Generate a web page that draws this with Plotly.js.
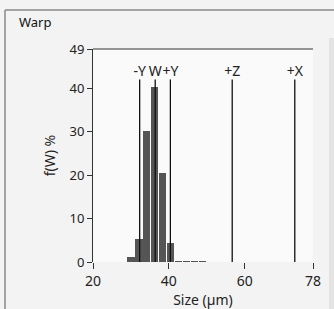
<!DOCTYPE html>
<html>
<head>
<meta charset="utf-8">
<script src="https://cdn.plot.ly/plotly-3.0.1.min.js"></script>
<style>
html,body{margin:0;padding:0;background:#f3f3f3;}
#chart{width:334px;height:309px;}
</style>
</head>
<body>
<div id="chart"></div>
<script>
// Histogram bins (µm) and frequencies (%)
const binCenters = [30.0, 32.1, 34.2, 36.3, 38.4, 40.5, 42.6, 44.7, 46.8, 48.9];
const binValues  = [1.2, 5.3, 30.1, 40.3, 20.4, 4.4, 0.3, 0.3, 0.3, 0.3];
// Marker lines
const markerLabels = ["-Y", "W", "+Y", "+Z", "+X"];
const markerX = [32.3, 36.4, 40.4, 56.7, 73.2];
const markerTop = 42;
// Axis ticks
const xTicks = [20, 40, 60, 78];
const yTicks = [0, 10, 20, 30, 40, 49];

const lx = [], ly = [];
markerX.forEach(x => { lx.push(x, x, null); ly.push(0, markerTop, null); });

const fam = "Noto Sans, Open Sans, sans-serif";
const font = {family: fam, size: 13, color: "#222"};

const traces = [
  {type: "bar", x: binCenters, y: binValues, width: 1.9,
   marker: {color: "#555555", line: {width: 0}}, hoverinfo: "skip"},
  {type: "scatter", mode: "lines", x: lx, y: ly,
   line: {color: "#111", width: 1.3}, hoverinfo: "skip"},
  {type: "scatter", mode: "text", x: markerX, y: markerX.map(() => markerTop),
   text: markerLabels, textposition: "top center",
   textfont: {family: fam, size: 14, color: "#222"}, hoverinfo: "skip", cliponaxis: false}
];

const P = (px) => (px - 93) / 220;
const Q = (py) => (262 - py) / 213;

const layout = {
  width: 334, height: 309,
  margin: {l: 93, r: 21, t: 49, b: 47, pad: 0},
  paper_bgcolor: "#f3f3f3",
  plot_bgcolor: "#fafafa",
  showlegend: false,
  font: font,
  bargap: 0,
  xaxis: {range: [20, 78], tickvals: xTicks, ticktext: xTicks.map(String),
    ticks: "outside", ticklen: 6, tickwidth: 1, tickcolor: "#333",
    showline: false, showgrid: false, zeroline: false,
    tickfont: {family: fam, size: 14, color: "#222"},
    title: {text: "Size (µm)", font: {family: fam, size: 14, color: "#222"}, standoff: 9}},
  yaxis: {range: [0, 49], tickvals: yTicks, ticktext: yTicks.map(String),
    ticks: "outside", ticklen: 5, tickwidth: 1, tickcolor: "#333",
    showline: true, linecolor: "#333", linewidth: 1,
    showgrid: false, zeroline: false,
    tickfont: {family: fam, size: 13, color: "#222"},
    title: {text: "f(W) %", font: {family: fam, size: 14, color: "#222"}, standoff: 10}},
  shapes: [
    {type: "line", xref: "paper", yref: "paper", x0: 0, x1: 1, y0: 1, y1: 1,
     line: {color: "#333", width: 1}},
    // group box border
    {type: "line", xref: "paper", yref: "paper", x0: P(5), x1: P(334), y0: Q(10), y1: Q(10),
     line: {color: "#8a8a8a", width: 1.5}},
    {type: "line", xref: "paper", yref: "paper", x0: P(5), x1: P(5), y0: Q(10), y1: Q(309),
     line: {color: "#8a8a8a", width: 1.5}},
    // right strip
    {type: "rect", xref: "paper", yref: "paper", x0: P(329), x1: P(334), y0: Q(309), y1: Q(38),
     fillcolor: "#e4e4e4", line: {width: 0}}
  ],
  annotations: [
    {text: "Warp", xref: "paper", yref: "paper", x: P(17), y: Q(22),
     xanchor: "left", yanchor: "middle", showarrow: false,
     font: {family: fam, size: 13, color: "#111"}}
  ]
};

Plotly.newPlot("chart", traces, layout, {staticPlot: true, displayModeBar: false});
</script>
</body>
</html>
